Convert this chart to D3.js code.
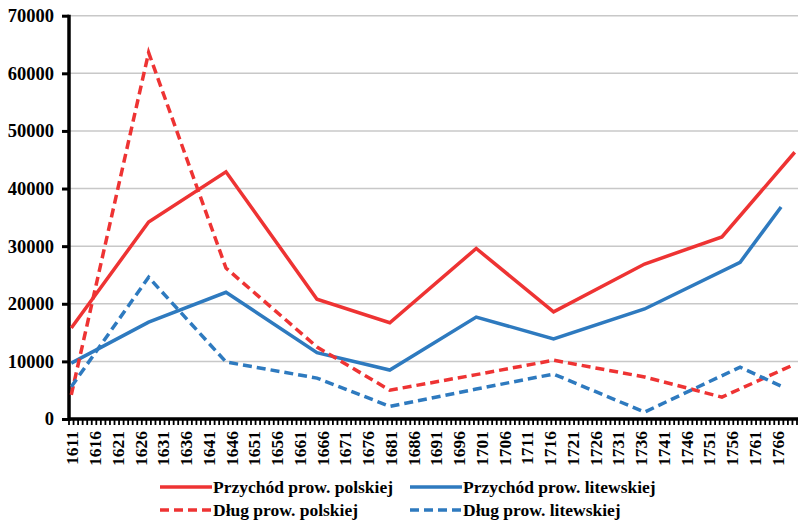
<!DOCTYPE html>
<html lang="pl">
<head>
    <meta charset="UTF-8">
    <title>Przychód i dług prowincji</title>
    <script src="https://d3js.org/d3.v7.min.js"></script>
    <style>
        body { margin: 0; background: #fff; }
        text { font-family: "Liberation Serif", "Times New Roman", serif; font-weight: bold; }
    </style>
</head>
<body>
    <script>
        // years at which each province was measured
        var polYears = [1611, 1628, 1645, 1665, 1681, 1700, 1717, 1737, 1754, 1770];
        var litYears = [1611, 1628, 1645, 1665, 1681, 1700, 1717, 1737, 1758, 1767];

        var przychodPol = [15800, 34200, 42900, 20800, 16700, 29600, 18600, 26900, 31600, 46300];
        var przychodLit = [9700, 16800, 22000, 11500, 8500, 17700, 13900, 19100, 27200, 36800];
        var dlugPol = [4200, 63600, 26200, 12500, 5000, 7700, 10200, 7300, 3800, 9500];
        var dlugLit = [5600, 24600, 9900, 7100, 2200, 5200, 7800, 1200, 9000, 5700];

        var yTicks = [0, 10000, 20000, 30000, 40000, 50000, 60000, 70000];
        var firstYear = 1611, lastYear = 1772;
        var labelYears = d3.range(1611, 1767, 5);

        var w = 798, h = 521;
        var plotLeft = 69, plotTop = 15.7, plotBottom = 419;

        var svg = d3.select("body").append("svg")
            .attr("width", w).attr("height", h)
            .style("background", "#fff");

        var x = d3.scaleLinear()
            .domain([firstYear - 0.5, lastYear + 0.5])
            .range([plotLeft, plotLeft + (lastYear - firstYear + 1) * 4.55]);
        var y = d3.scaleLinear().domain([0, 70000]).range([plotBottom, plotTop]);

        // gridlines
        svg.append("g").selectAll("line")
            .data(yTicks.filter(d => d > 0))
            .join("line")
            .attr("x1", plotLeft).attr("x2", w)
            .attr("y1", d => y(d)).attr("y2", d => y(d))
            .attr("stroke", "#c8c8c8").attr("stroke-width", 1.5);

        // y axis
        var yAxis = svg.append("g")
            .attr("transform", "translate(" + plotLeft + ",0)")
            .call(d3.axisLeft(y).tickValues(yTicks).tickSize(7).tickFormat(d3.format("d")));
        yAxis.select(".domain").remove();
        yAxis.selectAll("line").attr("stroke", "#000").attr("stroke-width", 3);
        yAxis.selectAll("text").attr("font-size", 18.5).attr("fill", "#000").attr("x", -15);
        svg.append("line")
            .attr("x1", plotLeft).attr("x2", plotLeft)
            .attr("y1", plotTop - 1).attr("y2", plotBottom + 2)
            .attr("stroke", "#000").attr("stroke-width", 3.5);

        // x axis: minor tick at every year boundary
        var xg = svg.append("g");
        xg.selectAll("line.minor")
            .data(d3.range(firstYear, lastYear + 1))
            .join("line")
            .attr("class", "minor")
            .attr("x1", d => x(d - 0.5)).attr("x2", d => x(d - 0.5))
            .attr("y1", plotBottom).attr("y2", plotBottom + 6)
            .attr("stroke", "#000").attr("stroke-width", 1.8);
        xg.append("line")
            .attr("x1", plotLeft - 1).attr("x2", w)
            .attr("y1", plotBottom).attr("y2", plotBottom)
            .attr("stroke", "#000").attr("stroke-width", 3.5);
        xg.selectAll("text")
            .data(labelYears)
            .join("text")
            .attr("transform", d => "translate(" + (x(d) + 1) + "," + 431 + ") rotate(-90)")
            .attr("text-anchor", "end")
            .attr("dy", "0.35em")
            .attr("font-size", 17.5)
            .text(d => d);

        var series = [
            { name: "Przychód prow. polskiej", years: polYears, vals: przychodPol, color: "#ee3333", dash: null },
            { name: "Przychód prow. litewskiej", years: litYears, vals: przychodLit, color: "#2e7abf", dash: null },
            { name: "Dług prow. polskiej", years: polYears, vals: dlugPol, color: "#ee3333", dash: "9,5" },
            { name: "Dług prow. litewskiej", years: litYears, vals: dlugLit, color: "#2e7abf", dash: "9,5" }
        ];

        var line = d3.line().x(d => x(d[0])).y(d => y(d[1]));

        svg.append("g").selectAll("path")
            .data(series)
            .join("path")
            .attr("d", s => line(s.years.map((yr, i) => [yr, s.vals[i]])))
            .attr("fill", "none")
            .attr("stroke", s => s.color)
            .attr("stroke-width", 3.5)
            .attr("stroke-dasharray", s => s.dash);

        // legend
        var legX = [160, 410], legY = [487, 510];
        var leg = svg.append("g").selectAll("g")
            .data(series)
            .join("g")
            .attr("transform", (s, i) => "translate(" + legX[i % 2] + "," + legY[Math.floor(i / 2)] + ")");
        leg.append("line")
            .attr("x1", 0).attr("x2", 52)
            .attr("stroke", s => s.color)
            .attr("stroke-width", 3.5)
            .attr("stroke-dasharray", s => s.dash);
        leg.append("text")
            .attr("x", 53).attr("dy", "0.35em")
            .attr("font-size", 17.5)
            .text(s => s.name);
    </script>
</body>
</html>
